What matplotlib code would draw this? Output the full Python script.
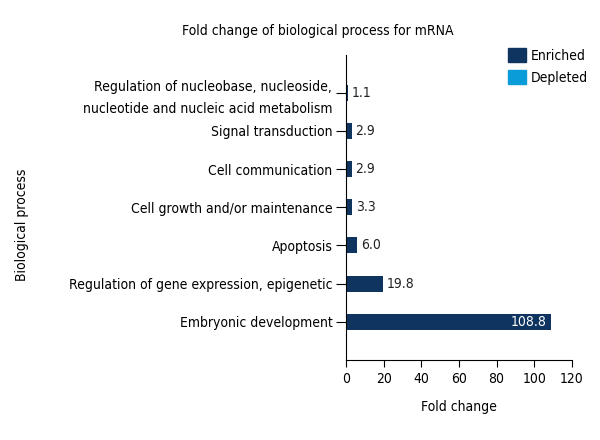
import matplotlib.pyplot as plt
from matplotlib.patches import Patch

processes = ["Embryonic development",
             "Regulation of gene expression, epigenetic",
             "Apoptosis",
             "Cell growth and/or maintenance",
             "Cell communication",
             "Signal transduction",
             "Regulation of nucleobase, nucleoside,\nnucleotide and nucleic acid metabolism"]
fold_change = [108.8, 19.8, 6.0, 3.3, 2.9, 2.9, 1.1]
xticks = [0, 20, 40, 60, 80, 100, 120]

navy = "#0f3460"
light = "#0a9bd9"

plt.rcParams['font.family'] = ['DejaVu Sans']
plt.rcParams['font.stretch'] = 'condensed'
plt.rcParams['font.size'] = 10

fig = plt.figure(figsize=(6, 4.4), dpi=100)
ax = fig.add_axes([0.577, 0.182, 0.376, 0.694])

pos = list(range(len(processes)))
ax.barh(pos, fold_change, height=0.42, color=navy)
for p, v in zip(pos, fold_change):
    if v > 100:
        ax.text(v - 2, p, f"{v:.1f}", va="center", ha="right", color="white")
    else:
        ax.text(v + 2, p, f"{v:.1f}", va="center", ha="left", color="#222222")

ax.set_ylim(-1, 7)
ax.set_xlim(0, 120)
ax.set_xticks(xticks)
ax.set_yticks(pos)
ax.set_yticklabels(processes)
for lbl in ax.get_yticklabels():
    lbl.set_linespacing(1.7)
ax.tick_params(axis="x", length=5, direction="out", pad=4)
ax.tick_params(axis="y", length=7, direction="out", pad=3)
for s in ["top", "right"]:
    ax.spines[s].set_visible(False)
ax.set_xlabel("Fold change", labelpad=10)

fig.text(0.53, 0.93, "Fold change of biological process for mRNA", ha="center", va="center")
fig.text(0.037, 0.49, "Biological process", rotation=90, ha="center", va="center")

handles = [Patch(color=navy, label="Enriched"), Patch(color=light, label="Depleted")]
fig.legend(handles=handles, loc="upper left", bbox_to_anchor=(0.847, 0.89), frameon=False,
           borderpad=0, borderaxespad=0, handlelength=1.3, handleheight=1.1,
           handletextpad=0.3, labelspacing=0.55)

fig.savefig("out.png", dpi=100)
